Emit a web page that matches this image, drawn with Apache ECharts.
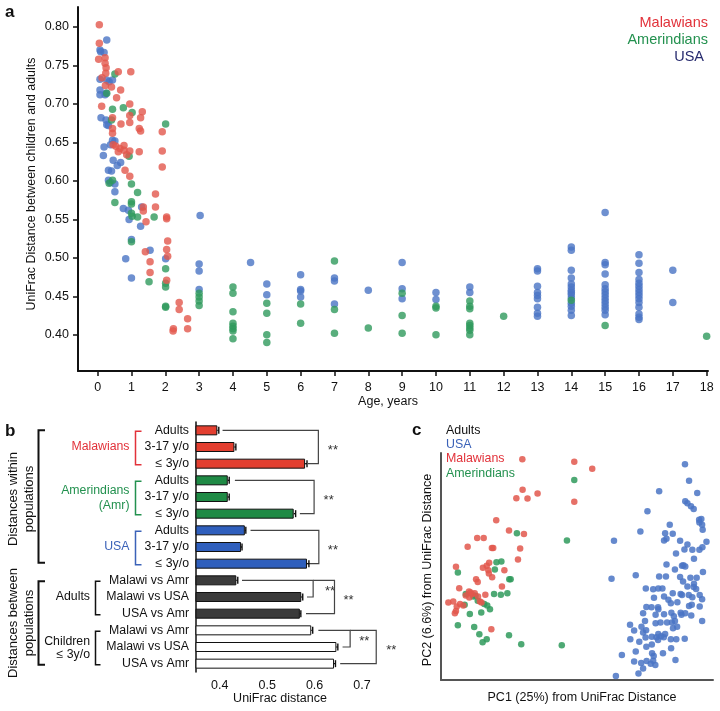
<!DOCTYPE html>
<html><head><meta charset="utf-8">
<script src="https://cdn.jsdelivr.net/npm/echarts@6/dist/echarts.min.js"></script>
<style>html,body{margin:0;padding:0;background:#fff}#c{width:720px;height:711px}</style>
</head><body><div id="c"></div>
<script>
const FONT = '"Liberation Sans", Arial, Helvetica, sans-serif';

// ---------- Panel a : UniFrac distance children vs adults by age ----------
const ageTicks = [0,1,2,3,4,5,6,7,8,9,10,11,12,13,14,15,16,17,18];
const distTicks = [0.40,0.45,0.50,0.55,0.60,0.65,0.70,0.75,0.80];
const aMalawi = [[0.05,0.803],[0.05,0.779],[0.03,0.758],[0.22,0.760],[0.22,0.753],[0.25,0.747],[0.24,0.740],[0.13,0.734],[0.23,0.724],[0.41,0.722],[0.61,0.742],[0.98,0.742],[0.68,0.718],[0.56,0.708],[0.12,0.697],[0.95,0.700],[1.32,0.690],[0.95,0.685],[1.27,0.682],[0.44,0.682],[0.69,0.674],[0.95,0.676],[1.23,0.668],[1.27,0.665],[1.91,0.664],[0.44,0.668],[0.44,0.662],[0.46,0.647],[0.54,0.645],[0.66,0.642],[0.78,0.646],[0.78,0.640],[0.61,0.638],[0.86,0.634],[0.95,0.639],[1.23,0.638],[1.91,0.639],[1.91,0.618],[0.81,0.614],[0.95,0.606],[1.71,0.583],[1.35,0.566],[1.35,0.561],[1.71,0.566],[2.04,0.553],[2.04,0.551],[1.43,0.547],[2.07,0.522],[1.41,0.508],[2.04,0.511],[2.07,0.502],[1.55,0.495],[1.55,0.481],[2.04,0.471],[2.41,0.442],[2.41,0.433],[2.66,0.421],[2.24,0.408],[2.23,0.405],[2.66,0.408]];
const aAmer = [[0.51,0.739],[0.27,0.714],[0.44,0.693],[0.76,0.695],[1.02,0.689],[0.41,0.679],[2.01,0.674],[0.93,0.632],[0.34,0.597],[0.44,0.601],[1.0,0.596],[1.18,0.585],[0.51,0.572],[1.0,0.573],[1.0,0.570],[1.0,0.558],[1.02,0.554],[1.18,0.553],[1.67,0.553],[1.0,0.521],[1.52,0.469],[2.01,0.486],[2.01,0.467],[2.01,0.462],[2.01,0.437],[2.01,0.436],[3,0.454],[3,0.449],[3,0.444],[3,0.438],[4,0.462],[4,0.454],[4,0.430],[4,0.415],[4,0.411],[4,0.408],[4,0.405],[4,0.395],[5,0.441],[5,0.428],[5,0.400],[5,0.390],[6,0.440],[6,0.415],[7,0.496],[7,0.433],[7,0.402],[8,0.409],[9,0.454],[9,0.425],[9,0.402],[10,0.437],[10,0.435],[10,0.400],[11,0.444],[11,0.437],[11,0.434],[11,0.415],[11,0.412],[11,0.409],[11,0.406],[11,0.400],[12,0.424],[14,0.445],[15,0.412],[18,0.398]];
const aUSA = [[0.27,0.783],[0.07,0.770],[0.09,0.768],[0.19,0.767],[0.07,0.732],[0.27,0.731],[0.44,0.731],[0.34,0.729],[0.07,0.718],[0.07,0.712],[0.22,0.712],[0.25,0.714],[0.10,0.682],[0.25,0.679],[0.27,0.673],[0.32,0.672],[0.44,0.653],[0.51,0.652],[0.19,0.644],[0.17,0.633],[0.38,0.647],[0.46,0.627],[0.58,0.620],[0.68,0.624],[0.32,0.614],[0.41,0.613],[0.32,0.601],[0.38,0.598],[0.51,0.596],[0.51,0.586],[0.76,0.564],[0.91,0.562],[0.93,0.550],[1.27,0.541],[1.30,0.566],[3.03,0.555],[1.0,0.524],[1.55,0.510],[0.83,0.499],[2.01,0.499],[1.0,0.474],[3,0.492],[3,0.483],[3,0.459],[4.52,0.494],[5,0.466],[5,0.452],[6,0.478],[6,0.459],[6,0.457],[6,0.449],[7,0.474],[7,0.470],[7,0.440],[8,0.458],[9,0.494],[9,0.460],[9,0.447],[10,0.455],[10,0.446],[11,0.462],[11,0.455],
[13,0.486],[13,0.483],[13,0.463],[13,0.455],[13,0.451],[13,0.447],[13,0.436],[13,0.428],[13,0.424],
[14,0.514],[14,0.510],[14,0.484],[14,0.474],[14,0.466],[14,0.462],[14,0.458],[14,0.455],[14,0.452],[14,0.448],[14,0.441],[14,0.437],[14,0.432],[14,0.425],
[15,0.559],[15,0.494],[15,0.491],[15,0.479],[15,0.465],[15,0.460],[15,0.456],[15,0.452],[15,0.448],[15,0.444],[15,0.440],[15,0.436],[15,0.432],[15,0.426],
[16,0.504],[16,0.493],[16,0.481],[16,0.472],[16,0.467],[16,0.463],[16,0.459],[16,0.455],[16,0.451],[16,0.447],[16,0.442],[16,0.436],[16,0.427],[16,0.423],[16,0.420],
[17,0.484],[17,0.442]];

// ---------- Panel b : mean UniFrac distances ----------
const barLabels = ['Adults','3-17 y/o','\u2264 3y/o','Adults','3-17 y/o','\u2264 3y/o','Adults','3-17 y/o','\u2264 3y/o','Malawi vs Amr','Malawi vs USA','USA vs Amr','Malawi vs Amr','Malawi vs USA','USA vs Amr'];
const barValues = [0.395,0.431,0.580,0.417,0.417,0.556,0.453,0.445,0.584,0.435,0.572,0.569,0.593,0.646,0.641];
const barErrors = [0.002,0.002,0.003,0.002,0.002,0.003,0.001,0.001,0.003,0.002,0.002,0.001,0.002,0.002,0.002];
const barGroups = ['mal','mal','mal','amr','amr','amr','usa','usa','usa','adu','adu','adu','chi','chi','chi'];
const uniTicks = [0.4,0.5,0.6,0.7];

// ---------- Panel c : PCoA scores (scaled 0-100) ----------
const cMalawi = [[29.9,97.2],[49.0,96.2],[55.6,93.1],[30.0,83.8],[27.7,80.1],[31.8,80.0],[35.5,82.2],[49.0,78.5],[20.3,70.4],[25.0,65.9],[30.5,64.3],[13.3,62.6],[15.7,62.6],[9.8,58.7],[18.7,58.2],[19.2,58.2],[29.1,57.9],[28.3,53.1],[17.7,51.6],[16.8,50.3],[5.5,49.9],[15.4,49.4],[17.4,48.4],[23.3,48.4],[17.6,46.9],[18.8,45.3],[12.9,44.4],[13.5,43.2],[6.7,40.4],[22.4,41.2],[10.3,39.0],[12.4,38.2],[9.1,37.2],[13.6,36.8],[16.3,37.6],[2.7,34.1],[4.5,34.6],[7.0,33.5],[14.3,34.6],[14.9,34.1],[5.8,32.4],[8.2,32.8],[5.5,30.4],[5.1,29.4],[18.5,22.4],[10.4,36.3],[11.4,37.8],[10.9,38.5]];
const cAmer = [[49.0,88.1],[27.9,64.7],[46.3,61.5],[20.4,51.9],[22.2,52.2],[6.2,47.4],[19.8,48.7],[25.1,44.4],[25.6,44.4],[9.1,37.9],[11.9,36.8],[19.5,37.9],[22.0,37.6],[24.4,38.2],[8.7,33.1],[10.6,29.1],[14.8,29.7],[18.0,31.2],[17.0,32.8],[6.2,24.1],[12.2,23.4],[14.1,20.1],[16.8,17.9],[15.3,16.6],[25.0,19.7],[29.5,15.7],[44.4,15.3],[12.7,37.1],[13.5,34.9],[15.9,33.5]];
const cUSA = [[89.7,95.0],[80.2,83.2],[91.2,87.8],[94.2,82.4],[89.8,78.7],[90.6,77.9],[91.9,76.5],[92.9,75.3],[75.9,74.3],[94.9,70.6],[95.7,70.9],[96.0,68.4],[95.0,69.4],[96.2,66.2],[84.1,68.4],[73.3,65.4],[82.4,64.6],[82.9,62.2],[85.2,64.4],[63.6,61.3],[82.0,61.5],[87.9,61.3],[97.6,60.9],[96.1,58.5],[90.6,59.7],[92.4,57.4],[89.5,57.5],[86.4,55.7],[93.0,53.4],[95.0,57.4],[62.7,44.6],[71.6,46.2],[80.2,45.6],[82.9,50.9],[86.0,48.7],[88.6,50.3],[89.1,50.6],[89.8,50.0],[87.9,45.4],[91.7,45.0],[94.0,45.0],[96.3,47.6],[82.7,45.6],[75.3,40.3],[78.0,40.0],[79.9,40.3],[81.4,40.3],[85.2,38.2],[82.0,36.8],[88.6,37.5],[88.1,37.9],[90.6,41.2],[92.9,41.0],[93.8,40.1],[92.4,36.5],[78.3,36.2],[77.4,32.1],[79.8,32.1],[83.6,35.3],[84.5,33.8],[86.9,34.3],[92.2,33.2],[91.2,32.6],[95.1,32.4],[96.0,35.6],[75.5,32.2],[78.9,28.7],[82.0,29.0],[84.7,29.6],[88.1,29.6],[89.8,29.4],[92.0,28.4],[74.3,29.4],[75.0,26.0],[73.7,23.5],[78.9,25.0],[80.7,25.3],[83.1,25.3],[84.9,25.3],[86.0,26.0],[85.3,22.8],[86.8,23.5],[75.4,21.9],[69.5,24.3],[71.0,21.8],[74.3,20.9],[77.5,19.1],[79.2,18.8],[79.8,17.6],[80.9,19.3],[84.5,17.9],[89.6,18.2],[96.0,26.0],[69.6,17.9],[72.9,16.8],[66.5,11.0],[71.6,12.6],[77.6,11.8],[78.2,10.6],[78.0,8.5],[81.6,11.8],[84.6,14.0],[86.2,8.8],[71.0,8.1],[73.6,7.5],[74.3,5.1],[77.1,7.2],[78.8,6.6],[72.6,2.9],[64.3,1.8],[75.6,8.4],[79.9,31.2],[85.6,28.1],[88.4,28.7],[77.5,15.6],[75.2,18.7],[82.4,20.3],[81.9,18.8],[79.9,20.3],[91.1,37.4],[95.1,37.5],[86.5,17.9],[75.5,14.7],[89.0,43.4],[93.0,42.4]];

// ---------- colours ----------
const PT = {mal:'#e2574c', amr:'#2f9a5c', usa:'#4a74c4'};
const BAR = {mal:'#e33f30', amr:'#1f8a45', usa:'#2f5fbd', adu:'#3b3b3b', chi:'#ffffff'};
const TXT = {mal:'#e2323a', amr:'#23914f', usa:'#3b62b8', usaA:'#262a6e'};

const chart = echarts.init(document.getElementById('c'), null, {renderer:'canvas'});
const lbl = (o) => Object.assign({color:'#111', fontFamily:FONT, fontSize:12.3}, o);

chart.setOption({
  animation:false,
  backgroundColor:'#fff',
  grid:[
    {left:78, top:7, width:630, height:364},
    {left:196, top:422, width:166, height:250},
    {left:441, top:453, width:272, height:227}
  ],
  xAxis:[
    {gridIndex:0, type:'value', min:-0.58, max:18.04,
     axisLine:{onZero:false, lineStyle:{color:'#111', width:2}},
     axisTick:{customValues:ageTicks, length:5, lineStyle:{color:'#111', width:1.5}},
     axisLabel:lbl({customValues:ageTicks, margin:10, fontSize:12.5}),
     splitLine:{show:false}},
    {gridIndex:1, type:'value', min:0.35, max:0.70,
     axisLine:{onZero:false, lineStyle:{color:'#111', width:1.5}},
     axisTick:{customValues:uniTicks, length:4, lineStyle:{color:'#111', width:1.2}},
     axisLabel:lbl({customValues:uniTicks, margin:7, fontSize:12.5, formatter:v=>v.toFixed(1)}),
     splitLine:{show:false}},
    {gridIndex:2, type:'value', min:0, max:100,
     axisLine:{onZero:false, lineStyle:{color:'#555', width:2}},
     axisTick:{show:false}, axisLabel:{show:false}, splitLine:{show:false}}
  ],
  yAxis:[
    {gridIndex:0, type:'value', min:0.353, max:0.826,
     axisLine:{onZero:false, lineStyle:{color:'#111', width:2}},
     axisTick:{customValues:distTicks, length:5, lineStyle:{color:'#111', width:1.5}},
     axisLabel:lbl({customValues:distTicks, margin:9, fontSize:12.5, formatter:v=>v.toFixed(2)}),
     splitLine:{show:false}},
    {gridIndex:1, type:'category', data:barLabels, inverse:true,
     axisLine:{onZero:false, lineStyle:{color:'#111', width:1.5}},
     axisTick:{alignWithLabel:true, length:4, lineStyle:{color:'#111', width:1.2}},
     axisLabel:lbl({margin:7, fontSize:12.3, interval:0}),
     splitLine:{show:false}},
    {gridIndex:2, type:'value', min:0, max:100,
     axisLine:{onZero:false, lineStyle:{color:'#555', width:2}},
     axisTick:{show:false}, axisLabel:{show:false}, splitLine:{show:false}}
  ],
  series:[
    {type:'scatter', xAxisIndex:0, yAxisIndex:0, data:aUSA, symbolSize:7.5, itemStyle:{color:PT.usa, opacity:0.8}},
    {type:'scatter', xAxisIndex:0, yAxisIndex:0, data:aAmer, symbolSize:7.5, itemStyle:{color:PT.amr, opacity:0.8}},
    {type:'scatter', xAxisIndex:0, yAxisIndex:0, data:aMalawi, symbolSize:7.5, itemStyle:{color:PT.mal, opacity:0.8}},
    {type:'bar', xAxisIndex:1, yAxisIndex:1, barWidth:10,
     data:barValues.map((v,i)=>({value:v, itemStyle:{color:BAR[barGroups[i]], borderColor:'#111', borderWidth:1}}))},
    {type:'custom', xAxisIndex:1, yAxisIndex:1, encode:{x:0, y:1},
     data:barValues.map((v,i)=>[v,i,barErrors[i]]),
     renderItem:(params, api)=>{
       const v=api.value(0), i=api.value(1), e=api.value(2);
       const a=api.coord([v,i]), b=api.coord([v+e,i]);
       const st={stroke:'#111', lineWidth:1.4};
       return {type:'group', children:[
         {type:'line', shape:{x1:a[0], y1:a[1], x2:b[0]+0.5, y2:b[1]}, style:st},
         {type:'line', shape:{x1:b[0]+0.5, y1:b[1]-3.5, x2:b[0]+0.5, y2:b[1]+3.5}, style:st}
       ]};
     }},
    {type:'scatter', xAxisIndex:2, yAxisIndex:2, data:cUSA, symbolSize:6.5, itemStyle:{color:PT.usa, opacity:0.85}},
    {type:'scatter', xAxisIndex:2, yAxisIndex:2, data:cAmer, symbolSize:6.5, itemStyle:{color:PT.amr, opacity:0.85}},
    {type:'scatter', xAxisIndex:2, yAxisIndex:2, data:cMalawi, symbolSize:6.5, itemStyle:{color:PT.mal, opacity:0.85}}
  ]
});

// ---------- annotations ----------
const P = (v,row)=>chart.convertToPixel({xAxisIndex:1, yAxisIndex:1},[v,row]);
const rowY = r => { const f=Math.floor(r), c=Math.ceil(r); const y0=P(0.5,f)[1], y1=P(0.5,c)[1]; return y0+(y1-y0)*(r-f); };
const vx = v => P(v,0)[0];

function T(text, x, y, o){
  o=o||{};
  return {type:'text', x:x, y:y, rotation:o.rot||0, silent:true,
    style:{text:text, fill:o.color||'#111', font:(o.weight||'normal')+' '+(o.size||12.3)+'px '+FONT,
      textAlign:o.align||'center', textVerticalAlign:'middle', align:o.align||'center', verticalAlign:'middle'}};
}
function PL(points, color, w){
  return {type:'polyline', silent:true, shape:{points:points}, style:{stroke:color, lineWidth:w||1.2, fill:null}};
}

const g = [];
// panel labels
g.push(T('a',5,12,{align:'left', weight:'bold', size:17}));
g.push(T('b',5,431,{align:'left', weight:'bold', size:17}));
g.push(T('c',412,430,{align:'left', weight:'bold', size:17}));
// panel a legend & titles
g.push(T('Malawians',708,23,{align:'right', size:14.5, color:TXT.mal}));
g.push(T('Amerindians',708,40,{align:'right', size:14.5, color:TXT.amr}));
g.push(T('USA',704,57,{align:'right', size:14.5, color:TXT.usaA}));
g.push(T('UniFrac Distance between children and adults',32,184,{rot:Math.PI/2, size:12.4}));
g.push(T('Age, years',388,402,{size:12.5}));

// panel b group labels and brackets
const gb = (r0,r1,x,tab,color,w)=>PL([[x+tab,rowY(r0)+1],[x,rowY(r0)+1],[x,rowY(r1)+1],[x+tab,rowY(r1)+1]],color,w);
g.push(T('Malawians',129.5,rowY(1),{align:'right', color:TXT.mal}));
g.push(gb(0,2,135.5,6,TXT.mal,1.5));
g.push(T('Amerindians',129.5,rowY(4)-6,{align:'right', color:TXT.amr}));
g.push(T('(Amr)',129.5,rowY(4)+8.7,{align:'right', color:TXT.amr}));
g.push(gb(3,5,135.5,6,TXT.amr,1.5));
g.push(T('USA',129.5,rowY(7),{align:'right', color:TXT.usa}));
g.push(gb(6,8,135.5,6,TXT.usa,1.5));
g.push(T('Adults',90,rowY(10),{align:'right'}));
g.push(gb(9,11,95.5,5,'#111',1.5));
g.push(T('Children',90,rowY(13)-5.5,{align:'right'}));
g.push(T('\u2264 3y/o',90,rowY(13)+7.5,{align:'right'}));
g.push(gb(12,14,95.5,5,'#111',1.5));
g.push(PL([[45,rowY(0)],[38.5,rowY(0)],[38.5,rowY(8)-1],[45,rowY(8)-1]],'#111',2));
g.push(PL([[45,rowY(9)+1],[38.5,rowY(9)+1],[38.5,rowY(14)+1],[45,rowY(14)+1]],'#111',2));
g.push(T('Distances within',13.5,(rowY(0)+rowY(8))/2+2,{rot:Math.PI/2, size:13}));
g.push(T('populations',29.5,(rowY(0)+rowY(8))/2+2,{rot:Math.PI/2, size:13}));
g.push(T('Distances between',13.5,(rowY(9)+rowY(14))/2+1,{rot:Math.PI/2, size:13}));
g.push(T('populations',29.5,(rowY(9)+rowY(14))/2+1,{rot:Math.PI/2, size:13}));
g.push(T('UniFrac distance',280,699,{size:12.5}));

// significance brackets: vertical at value v, segments [row, start value], star [value,row]
const sig = [
  {v:0.608, segs:[[0,0.406],[2,0.586]], star:[0.628,1]},
  {v:0.599, segs:[[3,0.432],[5,0.569]], star:[0.619,4]},
  {v:0.609, segs:[[6,0.465],[8,0.586]], star:[0.628,7]},
  {v:0.597, segs:[[9,0.447],[10,0.584]], star:[0.622,9.5]},
  {v:0.642, segs:[[9,0.597],[11,0.582]], star:[0.661,10]},
  {v:0.675, segs:[[12,0.608],[13,0.659]], star:[0.694,12.5]},
  {v:0.730, segs:[[12,0.675],[14,0.654]], star:[0.751,13]}
];
sig.forEach(s=>{
  const y0=rowY(s.segs[0][0]), y1=rowY(s.segs[1][0]), x=vx(s.v);
  g.push(PL([[vx(s.segs[0][1]),y0],[x,y0],[x,y1],[vx(s.segs[1][1]),y1]],'#444',1.2));
  g.push(T('**',vx(s.star[0]),rowY(s.star[1])+3,{align:'left', size:13, color:'#333'}));
});

// panel c legend & titles
g.push(T('Adults',446,431,{align:'left', size:12.4}));
g.push(T('USA',446,445,{align:'left', size:12.4, color:TXT.usa}));
g.push(T('Malawians',446,459,{align:'left', size:12.4, color:TXT.mal}));
g.push(T('Amerindians',446,474,{align:'left', size:12.4, color:TXT.amr}));
g.push(T('PC2 (6.6%) from UniFrac Distance',428,570,{rot:Math.PI/2, size:12.5}));
g.push(T('PC1 (25%) from UniFrac Distance',582,698,{size:12.5}));

chart.setOption({graphic:{elements:g}});
</script></body></html>
